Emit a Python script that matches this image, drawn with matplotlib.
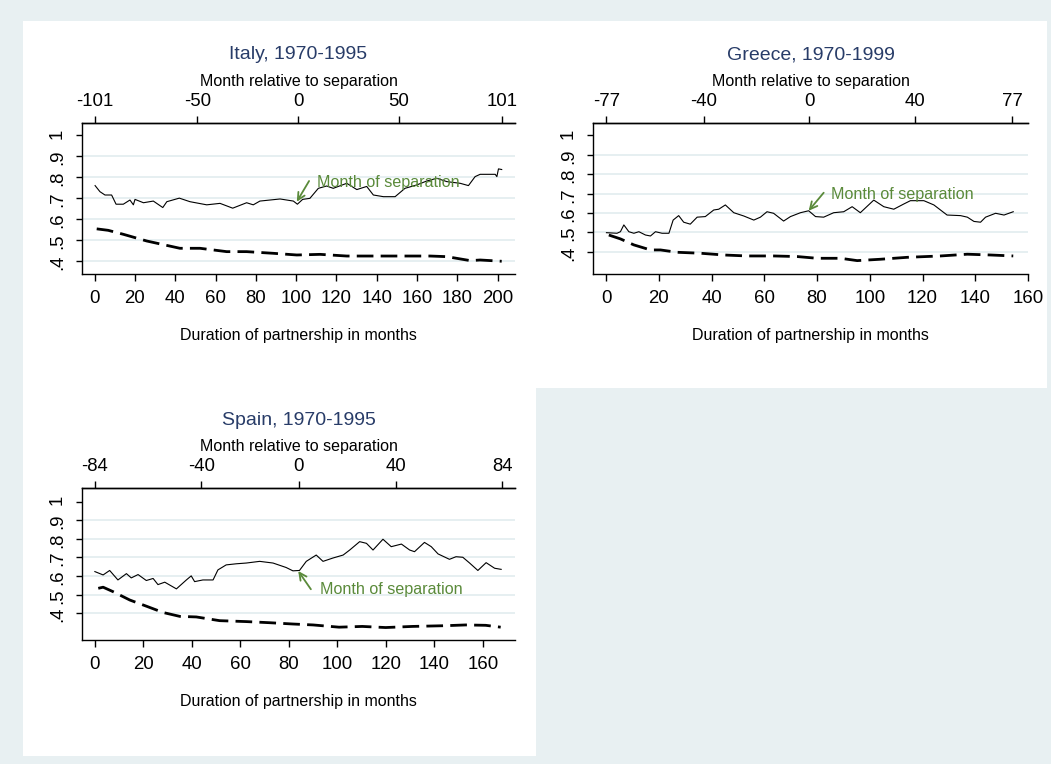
import numpy as np
import matplotlib
matplotlib.use("Agg")
import matplotlib.pyplot as plt
from matplotlib.patches import Rectangle

plt.rcParams['font.family'] = ['Liberation Sans', 'DejaVu Sans']
plt.rcParams['axes.unicode_minus'] = False

# ---- data ----
italy_solid_x = [0.2, 2.6, 5.1, 8.4, 10.6, 14.2, 17.5, 19.2, 20, 24.2, 29.1, 33.8, 35.8, 42, 47.3,
                 55.6, 62.2, 68.5, 75.4, 78.7, 82, 92, 98.6, 100.6, 103.2, 106.8, 111, 115.1,
                 118.4, 125.1, 130.1, 135, 138.3, 143.3, 149.1, 154, 159.8, 164.8, 169.8, 174.8,
                 181.4, 185.5, 188.8, 191.3, 198.8, 199.6, 200.4, 202]
italy_solid_y = [0.759, 0.730, 0.714, 0.714, 0.670, 0.670, 0.690, 0.667, 0.693, 0.677, 0.685, 0.654,
                 0.682, 0.699, 0.682, 0.667, 0.674, 0.651, 0.677, 0.667, 0.685, 0.695, 0.685, 0.670,
                 0.693, 0.698, 0.746, 0.757, 0.746, 0.770, 0.740, 0.755, 0.714, 0.706, 0.706, 0.746,
                 0.762, 0.781, 0.794, 0.778, 0.770, 0.759, 0.802, 0.813, 0.813, 0.802, 0.839, 0.836]
italy_dash_x = [1, 6.7, 14.2, 25.8, 42.3, 52.3, 65.5, 75.4, 88.7, 100.3, 111.9, 125.1, 133.4, 149.9,
                166.5, 174.8, 186.4, 191.3, 202]
italy_dash_y = [0.552, 0.545, 0.526, 0.494, 0.459, 0.459, 0.443, 0.443, 0.435, 0.427, 0.430, 0.422,
                0.422, 0.422, 0.422, 0.419, 0.400, 0.403, 0.397]

greece_solid_x = [0.1, 4.1, 5.4, 6.7, 8.6, 10.5, 12.4, 14.9, 16.8, 18.7, 21.2, 23.8, 25.4, 27.5, 29.4,
                  31.9, 34.5, 37.6, 40.8, 42.7, 45.2, 48.4, 52.2, 56, 58.5, 61, 63.5, 67.3, 69.9,
                  73.7, 76.8, 79.4, 82.5, 86.3, 90.1, 93.3, 96.4, 101.5, 105.3, 109.1, 112.9, 115.4,
                  120.5, 124.3, 129.3, 134.4, 137, 139.5, 142, 143.9, 147.7, 150.9, 154.4]
greece_solid_y = [0.498, 0.495, 0.503, 0.538, 0.503, 0.495, 0.503, 0.486, 0.481, 0.503, 0.495, 0.495,
                  0.563, 0.586, 0.552, 0.542, 0.578, 0.581, 0.615, 0.619, 0.641, 0.601, 0.584, 0.563,
                  0.578, 0.606, 0.598, 0.558, 0.581, 0.601, 0.611, 0.581, 0.578, 0.601, 0.606, 0.632,
                  0.601, 0.666, 0.632, 0.619, 0.646, 0.663, 0.663, 0.641, 0.589, 0.586, 0.578, 0.556,
                  0.552, 0.578, 0.598, 0.589, 0.606]
greece_dash_x = [1, 5.4, 10.5, 16.8, 20.6, 26.9, 35.8, 44.6, 53.5, 63.6, 72.4, 80, 88.9, 95.2, 104,
                 114.2, 126.8, 137, 145.8, 154.4]
greece_dash_y = [0.486, 0.466, 0.435, 0.409, 0.409, 0.397, 0.392, 0.383, 0.378, 0.378, 0.375, 0.366,
                 0.366, 0.354, 0.361, 0.371, 0.378, 0.387, 0.383, 0.378]

spain_solid_x = [0.1, 3.5, 6.2, 9.6, 13.1, 15.1, 17.9, 21.3, 24.1, 26.1, 28.9, 33.7, 37.8, 39.8, 41.2,
                 44.6, 48.8, 50.8, 54.2, 58.4, 62.5, 68, 73.5, 78.9, 81.7, 84.4, 87.2, 91.3, 94.1,
                 98.2, 102.4, 105.1, 109.2, 112, 114.7, 118.8, 122.2, 126.4, 129.8, 131.8, 135.9,
                 138.7, 141.5, 146.2, 148.9, 151.7, 154.5, 157.9, 161.3, 164.8, 167.5]
spain_solid_y = [0.624, 0.606, 0.630, 0.579, 0.613, 0.590, 0.608, 0.576, 0.587, 0.554, 0.567, 0.531,
                 0.579, 0.601, 0.570, 0.579, 0.579, 0.633, 0.660, 0.666, 0.670, 0.679, 0.670, 0.646,
                 0.628, 0.630, 0.679, 0.713, 0.679, 0.697, 0.713, 0.740, 0.785, 0.776, 0.740, 0.798,
                 0.758, 0.772, 0.740, 0.731, 0.781, 0.758, 0.719, 0.690, 0.704, 0.701, 0.670, 0.630,
                 0.672, 0.642, 0.636]
spain_dash_x = [1.5, 3.5, 7.6, 14.5, 21.3, 28.2, 35.1, 41.9, 51.5, 62.5, 72.1, 81.7, 90, 100.7, 110.3,
                119.9, 130.9, 144.6, 152.9, 161.1, 167.3]
spain_dash_y = [0.534, 0.540, 0.516, 0.471, 0.438, 0.404, 0.383, 0.380, 0.360, 0.355, 0.349, 0.342,
                0.337, 0.325, 0.329, 0.323, 0.329, 0.333, 0.337, 0.335, 0.325]

y_ticks = [0.4, 0.5, 0.6, 0.7, 0.8, 0.9, 1.0]
y_labels = ['.4', '.5', '.6', '.7', '.8', '.9', '1']

W, H = 1051, 764
bg = '#e8f0f2'
grid_c = '#e2ecef'
navy = '#283c68'
green = '#5a8a3a'

fig = plt.figure(figsize=(W / 100, H / 100), dpi=100, facecolor=bg)


def frac(x0, y0, x1, y1):
    return [x0 / W, 1 - y1 / H, (x1 - x0) / W, (y1 - y0) / H]


# white panel regions
for (x0, y0, x1, y1) in [(23, 21, 1047, 388), (23, 388, 536, 756)]:
    r = frac(x0, y0, x1, y1)
    fig.add_artist(Rectangle((r[0], r[1]), r[2], r[3], transform=fig.transFigure,
                             facecolor='white', edgecolor='none', zorder=0))


def panel(rect, title, sx, sy, dx, dy, off, top_ticks, xticks, xlim, ylim, tip, tail, txt):
    ax = fig.add_axes(frac(*rect))
    ax.set_facecolor('white')
    hpx = rect[3] - rect[1]
    for y in y_ticks[:-1]:
        ax.axhline(y, color=grid_c, lw=1.2, zorder=0)
    ax.plot(sx, sy, color='black', lw=0.8)
    ax.plot(dx, dy, color='black', lw=2.0, dashes=(6, 2.6))
    ax.set_xlim(*xlim)
    ax.set_ylim(*ylim)
    ax.set_xticks(xticks)
    ax.set_yticks(y_ticks, labels=y_labels, rotation=90)
    ax.tick_params(axis='x', labelsize=13.4, length=5, pad=6.5, width=1)
    ax.tick_params(axis='y', labelsize=13.4, length=4.5, pad=7, width=1)
    ax.spines['right'].set_visible(False)
    for s in ['left', 'bottom', 'top']:
        ax.spines[s].set_linewidth(1.0)
    sec = ax.secondary_xaxis('top', functions=(lambda x: x - off, lambda x: x + off))
    sec.set_xticks(top_ticks)
    sec.tick_params(labelsize=13.4, length=5, pad=4.3, width=1)
    sec.spines['top'].set_linewidth(1.0)
    ax.text(0.5, 1 + 68 / hpx, title, transform=ax.transAxes, ha='center', va='center',
            fontsize=14, color=navy)
    ax.text(0.5, 1 + 41.6 / hpx, 'Month relative to separation', transform=ax.transAxes,
            ha='center', va='center', fontsize=11.5, color='black')
    ax.text(0.5, -61.3 / hpx, 'Duration of partnership in months', transform=ax.transAxes,
            ha='center', va='center', fontsize=11.5, color='black')
    ax.annotate('', xy=tip, xytext=tail,
                arrowprops=dict(arrowstyle='->', color=green, lw=1.3, mutation_scale=13,
                                shrinkA=0, shrinkB=0))
    ax.text(txt[0], txt[1], 'Month of separation', color=green, fontsize=11.6,
            ha='left', va='center')
    return ax


panel((82, 122.7, 515, 274), 'Italy, 1970-1995', italy_solid_x, italy_solid_y,
      italy_dash_x, italy_dash_y, 101, [-101, -50, 0, 50, 101], np.arange(0, 201, 20),
      (-6.3, 208.6), (0.336, 1.06), (100.3, 0.682), (106.4, 0.781), (110.5, 0.775))

panel((593, 122.7, 1028, 274), 'Greece, 1970-1999', greece_solid_x, greece_solid_y,
      greece_dash_x, greece_dash_y, 77, [-77, -40, 0, 40, 77], np.arange(0, 161, 20),
      (-5, 160), (0.285, 1.065), (76.8, 0.611), (82.5, 0.704), (85.4, 0.697))

panel((82, 488.3, 515, 640), 'Spain, 1970-1995', spain_solid_x, spain_solid_y,
      spain_dash_x, spain_dash_y, 84, [-84, -40, 0, 40, 84], np.arange(0, 161, 20),
      (-5.2, 173.2), (0.256, 1.072), (83.9, 0.627), (89.1, 0.529), (92.8, 0.525))

fig.savefig('out.png', dpi=100, facecolor=bg)
